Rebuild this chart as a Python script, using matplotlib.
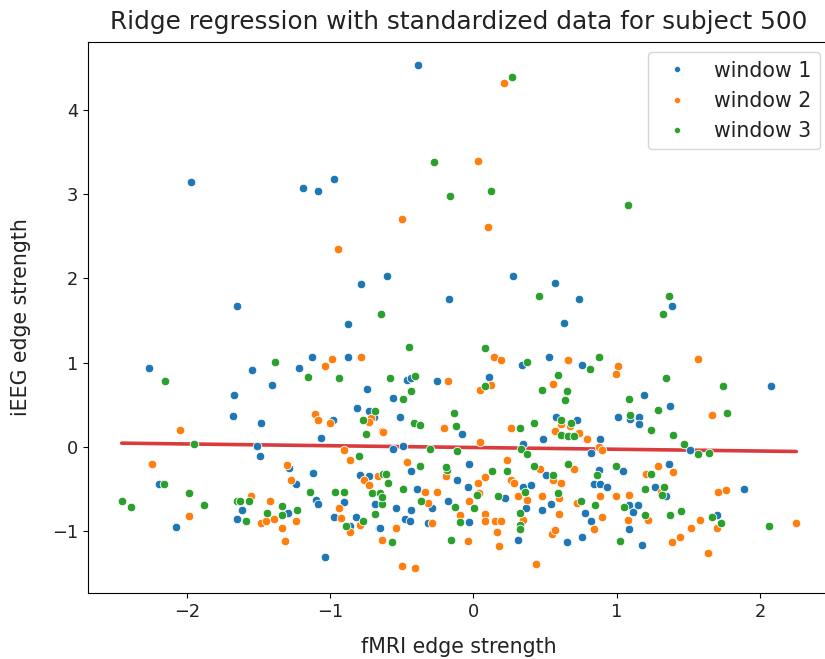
import matplotlib
matplotlib.use("Agg")
import matplotlib.pyplot as plt
from matplotlib.lines import Line2D
import numpy as np

labels = ["window 1", "window 2", "window 3"]
colors = ["#1f77b4", "#ff7f0e", "#2ca02c"]

w1_x = [-0.384, -1.971, -1.187, -1.082, -0.970, -0.603, -0.782, -0.172, -1.647, -0.873,
        0.277, 0.568, 0.735, 0.633, 1.384, -2.267, -1.671, -1.680, -2.197, -2.078,
        -1.647, -1.543, -1.408, -1.220, -1.126, -0.875, -0.740, -1.482, -1.513, -1.492,
        -0.979, -1.061, -0.812, -0.731, -0.693, -1.289, -1.240, -1.117, -0.791, -0.726,
        -1.096, -1.082, -0.905, -0.689, -1.617, -1.291, -0.970, -0.859, -0.822, -0.656,
        -1.033, 0.337, -0.466, -0.435, -0.256, 0.107, -0.563, -0.510, -0.077, -0.563,
        -0.489, 0.349, -0.435, -0.393, -0.288, -0.540, -0.435, -0.477, -0.442, -0.319,
        -0.649, -0.112, -0.030, -0.040, -0.175, -0.028, 0.223, 0.347, 0.368, 0.309,
        0.526, 0.759, 1.187, 1.373, 1.010, 1.091, 1.154, 1.154, 0.579, 0.724,
        0.884, 0.487, 0.822, 0.507, 0.873, 0.840, 0.884, 0.935, 1.040, 1.363,
        1.270, 1.345, 0.398, 0.538, 0.475, 0.777, 0.822, 0.651, 0.759, 1.082,
        1.110, 1.145, 1.082, 1.175, 2.075, 1.513, 1.887, 1.701]
w1_y = [4.53, 3.145, 3.074, 3.035, 3.18, 2.026, 1.935, 1.76, 1.67, 1.456,
        2.026, 1.94, 1.76, 1.47, 1.67, 0.94, 0.62, 0.37, -0.443, -0.946,
        -0.855, 0.906, 0.728, 0.941, 1.068, 1.068, 0.692, 0.285, 0.012, -0.107,
        0.32, 0.11, 0.459, 0.431, 0.352, -0.249, -0.443, -0.305, -0.336, -0.352,
        -0.637, -0.677, -0.657, -0.673, -0.748, -0.783, -0.835, -0.934, -0.835, -0.961,
        -1.302, 0.973, 0.795, 0.815, 0.78, 0.823, 0.585, 0.352, 0.158, -0.02,
        0.008, 0.032, -0.285, -0.499, -0.732, -0.732, -0.752, -0.855, -0.875, -0.906,
        -0.961, -0.392, -0.198, -0.471, -0.641, -0.89, -0.609, -0.471, -0.728, -1.104,
        1.064, 0.977, 0.621, 0.479, 0.352, 0.332, 0.352, 0.265, 0.356, 0.320,
        0.087, 0.087, -0.075, -0.336, -0.281, -0.439, -0.439, -0.479, -0.285, -0.198,
        -0.479, -0.589, -0.459, -0.677, -0.748, -0.780, -0.875, -1.135, -1.068, -0.692,
        -0.768, -0.692, -0.981, -1.171, 0.724, -0.036, -0.499, -0.811]

w2_x = [0.212, 0.035, 0.098, -0.498, -0.947, -2.045, -2.246, -1.982, -0.989, -1.033,
        -0.782, -1.105, -1.084, -1.0, -0.714, -0.726, -0.637, -0.905, -0.863, -1.303,
        -1.273, -0.665, -0.761, -0.731, -1.552, -1.417, -1.482, -1.450, -1.389, -1.240,
        -1.333, -1.315, -0.940, -0.926, -0.863, -0.791, -0.637, 0.140, 0.193, -0.175,
        0.121, 0.044, -0.633, -0.205, 0.044, 0.265, -0.466, -0.340, -0.256, -0.314,
        -0.291, -0.540, -0.498, -0.405, -0.195, 0.035, 0.077, 0.040, -0.028, -0.091,
        0.079, 0.079, 0.151, 0.193, 0.161, 0.181, -0.037, 0.233, 0.265, 0.286,
        0.314, 0.375, 0.349, 0.663, 1.010, 0.998, 0.558, 0.612, 0.677, 0.568,
        0.738, 0.789, 0.873, 0.894, 0.466, 0.558, 0.612, 0.705, 1.291, 1.203,
        1.310, 0.475, 0.600, 0.724, 0.884, 0.998, 1.084, 0.600, 0.894, 0.840,
        0.547, 0.570, 0.435, 1.220, 1.075, 1.382, 1.394, 1.564, 1.666, 1.708,
        1.764, 1.582, 1.520, 1.438, 1.699, 2.253, 1.636]
w2_y = [4.317, 3.395, 2.61, 2.70, 2.347, 0.198, -0.198, -0.82, 1.048, 0.961,
        1.068, 0.392, 0.32, 0.281, 0.348, 0.289, 0.182, -0.04, -0.162, -0.214,
        -0.392, -0.352, -0.392, -0.459, -0.582, -0.645, -0.906, -0.875, -0.855, -0.875,
        -0.961, -1.12, -0.728, -0.839, -1.013, -0.926, -1.10, 1.068, 1.025, 0.78,
        0.728, 0.673, 0.178, 0.229, 0.059, 0.229, -0.178, -0.538, -0.538, -0.661,
        -0.906, -0.961, -1.409, -1.44, -0.352, -0.431, -0.364, -0.55, -0.641, -0.815,
        -0.799, -0.875, -0.875, -0.875, -1.013, -1.175, -1.116, -0.158, -0.392, -0.431,
        -0.582, -0.637, -0.866, 1.029, 0.961, 0.870, 0.748, 0.269, 0.253, 0.182,
        0.162, 0.087, -0.008, -0.04, -0.265, -0.392, -0.431, -0.265, -0.229, -0.32,
        -0.542, -0.589, -0.609, -0.661, -0.589, -0.589, -0.570, -0.799, -0.835, -0.981,
        -1.033, -0.993, -1.389, -0.870, -0.870, -1.135, -0.301, 1.045, 0.372, -0.534,
        -0.514, -0.870, -0.961, -1.068, -0.961, -0.906, -1.262]

w3_x = [-0.277, -0.163, -0.647, 0.268, 0.119, 1.080, 0.456, 1.366, 1.322, -2.150,
        -1.952, -2.159, -1.982, -2.455, -2.392, -1.880, -1.647, -1.387, -1.157, -0.938,
        -0.686, -0.773, -0.749, -0.800, -0.633, -1.143, -0.968, -0.905, -0.710, -0.651,
        -0.640, -1.629, -1.564, -1.585, -1.440, -1.336, -1.336, -1.229, -0.887, -0.768,
        -0.686, -0.447, 0.077, 0.375, -0.582, -0.405, 0.077, -0.489, -0.435, -0.417,
        -0.372, -0.133, -0.121, 0.328, -0.300, -0.112, 0.333, 0.375, -0.372, -0.610,
        -0.598, -0.489, -0.635, -0.365, -0.570, -0.186, -0.191, 0.026, -0.130, 0.005,
        -0.091, -0.154, 0.131, 0.233, 0.172, 0.361, 0.326, 0.326, 0.326, 0.810,
        0.873, 1.345, 0.591, 0.475, 0.651, 0.642, 1.082, 1.291, 1.091, 1.238,
        1.394, 0.612, 0.684, 0.424, 0.612, 0.661, 0.705, 0.424, 0.558, 0.663,
        0.861, 0.998, 1.238, 1.199, 1.333, 1.319, 0.591, 0.747, 0.850, 1.052,
        1.196, 1.021, 1.373, 1.740, 1.771, 1.466, 1.564, 1.647, 1.447, 1.664,
        1.729, 2.064]
w3_y = [3.375, 2.98, 1.579, 4.39, 3.04, 2.876, 1.79, 1.79, 1.579, 0.78,
        0.036, -0.443, -0.55, -0.64, -0.712, -0.692, -0.64, 1.009, 0.831, 0.815,
        0.431, 0.32, 0.158, -0.107, -0.32, -0.538, -0.538, -0.538, -0.55, -0.55,
        -0.673, -0.645, -0.645, -0.875, -0.783, -0.708, -0.815, -0.752, -0.942, -0.875,
        -0.799, 1.19, 1.171, 1.005, 0.815, 0.835, 0.724, 0.566, 0.657, 0.285,
        0.261, 0.407, 0.245, 0.229, -0.02, -0.044, -0.02, -0.087, -0.229, -0.32,
        -0.431, -0.502, -0.593, -0.641, -1.135, -0.273, -0.241, -0.57, -0.712, -0.728,
        -0.89, -1.104, -0.289, -0.289, -0.582, -0.538, -0.783, -0.926, -0.977, 0.922,
        1.064, 0.815, 0.855, 0.673, 0.657, 0.550, 0.566, 0.443, 0.372, 0.194,
        0.139, 0.320, 0.285, 0.285, 0.139, 0.127, 0.127, -0.229, -0.336, -0.198,
        -0.336, -0.229, -0.32, -0.502, -0.479, -0.570, -0.554, -0.641, -0.692, -0.712,
        -0.815, -1.116, -0.815, 0.724, 0.407, 0.036, -0.091, -0.075, -0.764, -0.835,
        -0.906, -0.942]

fit_slope = -0.021
fit_intercept = -0.008

title = "Ridge regression with standardized data for subject 500"
xlabel = "fMRI edge strength"
ylabel = "iEEG edge strength"

fig = plt.figure(figsize=(8.25, 6.59), dpi=100)
ax = fig.add_axes([88/825, 66/659, 742/825, 551/659])

all_x = np.array(w1_x + w2_x + w3_x)
xl = np.array([all_x.min(), all_x.max()])
ax.plot(xl, fit_intercept + fit_slope * xl, color="#d62728", lw=2.6, alpha=0.9,
        zorder=1, solid_capstyle="round")

for xs, ys, c in zip([w1_x, w2_x, w3_x], [w1_y, w2_y, w3_y], colors):
    ax.scatter(xs, ys, s=38, color=c, edgecolor="white", linewidth=0.6, zorder=2)

ax.set_xlim(-2.69, 2.488)
ax.set_ylim(-1.735, 4.805)
ax.set_xticks([-2, -1, 0, 1, 2])
ax.set_yticks([-1, 0, 1, 2, 3, 4])
ax.tick_params(labelsize=12.8, labelcolor="#222222")
ax.set_title(title, fontsize=17.8, pad=9, color="#222222")
ax.set_xlabel(xlabel, fontsize=14.8, labelpad=12, color="#222222")
ax.set_ylabel(ylabel, fontsize=14.8, labelpad=15, color="#222222")

handles = [Line2D([], [], ls="none", marker="o", color=c, markersize=4.2,
                  markeredgecolor="white", markeredgewidth=0.3) for c in colors]
leg = ax.legend(handles, labels, loc="upper right", fontsize=14.8)
for t in leg.get_texts():
    t.set_color("#222222")

fig.savefig("out.png", dpi=100)
